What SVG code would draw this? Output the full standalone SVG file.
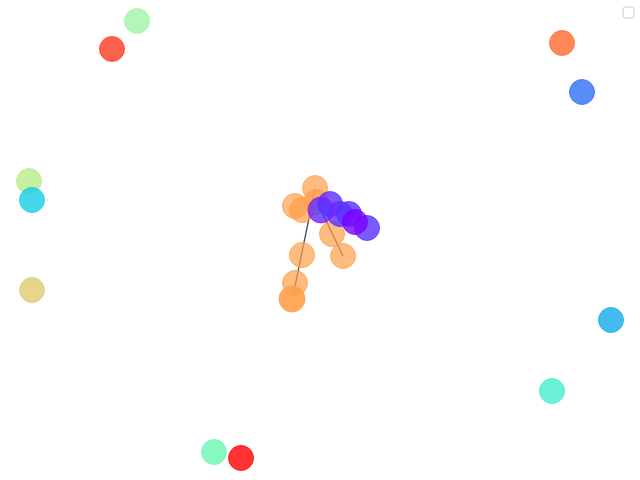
<svg xmlns="http://www.w3.org/2000/svg" width="640" height="480" viewBox="0 0 640 480">
<style>
.n circle{stroke-width:1;fill-opacity:0.8;stroke-opacity:0.8}
.o circle{fill:#ffa04a;stroke:#ffa04a;fill-opacity:0.7}
.p circle{fill:#5a30ff;stroke:#5a30ff;fill-opacity:0.8}
.lk line{stroke:#333;stroke-width:1.3;stroke-opacity:0.9}
</style>
<rect width="640" height="480" fill="#fff"/>
<rect x="623" y="7" width="11" height="11" rx="2.5" fill="#fff" stroke="#c8c8c8" stroke-width="1"/>
<g id="connectors" class="lk">
<line x1="315" y1="189" x2="293" y2="296"/>
<line x1="321" y1="210" x2="343" y2="256"/>
</g>
<g class="n">
<g id="n1"><circle cx="137" cy="21" r="12.5" fill="#9ff5a8" stroke="#9ff5a8"/></g>
<g id="n2"><circle cx="112" cy="49" r="12.5" fill="#ff3b1f" stroke="#ff3b1f"/></g>
<g id="n3"><circle cx="562" cy="43" r="12.5" fill="#ff6a30" stroke="#ff6a30"/></g>
<g id="n4"><circle cx="582" cy="92" r="12.5" fill="#2f6ff5" stroke="#2f6ff5"/></g>
<g id="n5"><circle cx="29" cy="181" r="12.5" fill="#b8ec88" stroke="#b8ec88"/></g>
<g id="n6"><circle cx="32" cy="200" r="12.5" fill="#14cde6" stroke="#14cde6"/></g>
<g id="n7"><circle cx="32" cy="290" r="12.5" fill="#e0cc70" stroke="#e0cc70"/></g>
<g id="n8"><circle cx="611" cy="320" r="12.5" fill="#12aaee" stroke="#12aaee"/></g>
<g id="n9"><circle cx="552" cy="391" r="12.5" fill="#45edcc" stroke="#45edcc"/></g>
<g id="n10"><circle cx="214" cy="452" r="12.5" fill="#6cf5b0" stroke="#6cf5b0"/></g>
<g id="n11"><circle cx="241" cy="458" r="12.5" fill="#ff0000" stroke="#ff0000"/></g>
<g class="o">
<g id="n12"><circle cx="315" cy="188" r="12.5"/></g>
<g id="n13"><circle cx="295" cy="206" r="12.5"/></g>
<g id="n14"><circle cx="302" cy="210" r="12.5"/></g>
<g id="n15"><circle cx="316" cy="202" r="12.5"/></g>
<g id="n16"><circle cx="302" cy="255" r="12.5"/></g>
<g id="n17"><circle cx="295" cy="283" r="12.5"/></g>
<g id="n18"><circle cx="292" cy="299" r="13" style="fill-opacity:0.9"/></g>
<g id="n19"><circle cx="332" cy="234" r="12.5"/></g>
<g id="n20"><circle cx="343" cy="256" r="12.5"/></g>
</g>
<g class="p">
<g id="n21"><circle cx="330" cy="204" r="12.5"/></g>
<g id="n22"><circle cx="340" cy="214" r="12.5"/></g>
<g id="n23"><circle cx="349" cy="214" r="12.5"/></g>
<g id="n24"><circle cx="367" cy="228" r="12.5"/></g>
<g id="n25"><circle cx="355" cy="222" r="12.5" style="fill:#7a00ff;stroke:#7a00ff"/></g>
<g id="n26"><circle cx="321" cy="210" r="13" style="stroke:#c000ff"/></g>
</g>
</g>
</svg>
